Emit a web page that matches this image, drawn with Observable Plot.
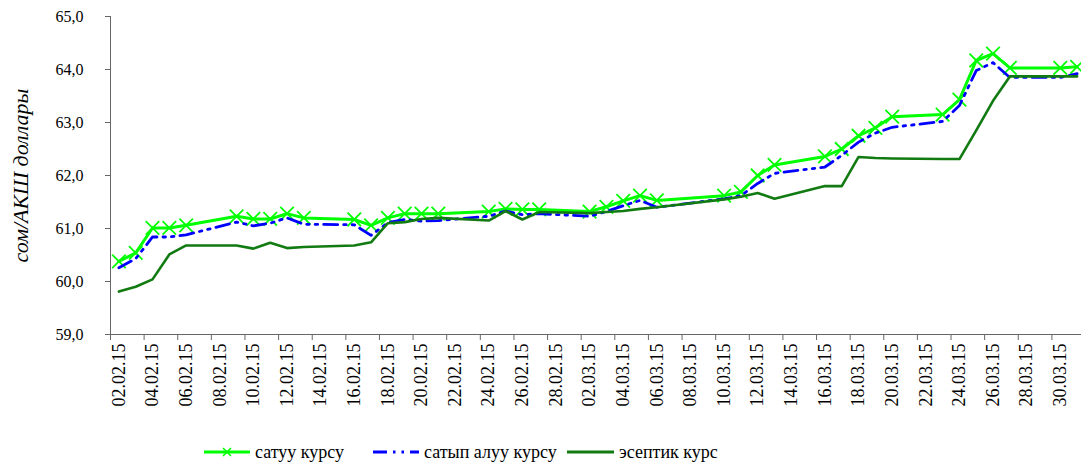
<!DOCTYPE html>
<html>
<head>
<meta charset="utf-8">
<script src="https://cdn.jsdelivr.net/npm/d3@7"></script>
<script src="https://cdn.jsdelivr.net/npm/@observablehq/plot@0.6"></script>
<style>
  html, body { margin: 0; padding: 0; background: #fff; overflow: hidden; }
  #chart { width: 1081px; }
  #chart svg, #chart svg text { font-family: "Liberation Serif", "Times New Roman", serif !important; }
  .legend { position: relative; width: 1081px; height: 39px; font-family: "Liberation Serif", "Times New Roman", serif; font-size: 18px; color: #000; }
  .legend .item { position: absolute; top: 16px; display: flex; align-items: center; height: 22px; }
  .legend svg { display: block; margin-right: 5px; }
</style>
</head>
<body>
<div id="chart"></div>
<div class="legend" id="legend"></div>
<script>
// ---- data ----
const dates = [
  "02.02.15","03.02.15","04.02.15","05.02.15","06.02.15",
  "09.02.15","10.02.15","11.02.15","12.02.15","13.02.15",
  "16.02.15","17.02.15","18.02.15","19.02.15","20.02.15","21.02.15",
  "24.02.15","25.02.15","26.02.15","27.02.15",
  "02.03.15","03.03.15","04.03.15","05.03.15","06.03.15",
  "10.03.15","11.03.15","12.03.15","13.03.15",
  "16.03.15","17.03.15","18.03.15","19.03.15","20.03.15",
  "23.03.15","24.03.15","25.03.15","26.03.15","27.03.15",
  "30.03.15","31.03.15"
];
const sellRate = [
  60.38, 60.54, 61.01, 61.01, 61.06,
  61.23, 61.18, 61.18, 61.28, 61.20,
  61.17, 61.06, 61.20, 61.28, 61.28, 61.28,
  61.32, 61.37, 61.36, 61.36,
  61.32, 61.41, 61.52, 61.62, 61.53,
  61.62, 61.69, 62.00, 62.20,
  62.36, 62.50, 62.75, 62.90, 63.11,
  63.15, 63.43, 64.17, 64.30, 64.03,
  64.03, 64.05
];
const buyRate = [
  60.26, 60.43, 60.84, 60.84, 60.88,
  61.12, 61.05, 61.10, 61.20, 61.08,
  61.07, 60.87, 61.11, 61.17, 61.14, 61.15,
  61.23, 61.33, 61.26, 61.28,
  61.23, 61.32, 61.43, 61.53, 61.40,
  61.56, 61.62, 61.85, 62.04,
  62.16, 62.38, 62.63, 62.80, 62.91,
  63.02, 63.32, 63.98, 64.13, 63.85,
  63.85, 63.92
];
const officialRate = [
  59.81, 59.90, 60.04, 60.51, 60.68,
  60.68, 60.62, 60.73, 60.63, 60.65,
  60.68, 60.74, 61.10, 61.12, 61.18, 61.20,
  61.15, 61.33, 61.17, 61.31,
  61.29, 61.31, 61.33, 61.37, 61.40,
  61.55, 61.60, 61.67, 61.56,
  61.80, 61.80, 62.35, 62.33, 62.32,
  62.31, 62.31, 62.85, 63.41, 63.87,
  63.87, 63.87
];
const xTickLabels = [
  "02.02.15","04.02.15","06.02.15","08.02.15","10.02.15","12.02.15","14.02.15",
  "16.02.15","18.02.15","20.02.15","22.02.15","24.02.15","26.02.15","28.02.15",
  "02.03.15","04.03.15","06.03.15","08.03.15","10.03.15","12.03.15","14.03.15",
  "16.03.15","18.03.15","20.03.15","22.03.15","24.03.15","26.03.15","28.03.15","30.03.15"
];
const yTicks = [59, 60, 61, 62, 63, 64, 65];
const seriesNames = ["сатуу курсу", "сатып алуу курсу", "эсептик курс"];
const yTitle = "сом/АКШ доллары";
const axisStart = "02.02.15";
const axisEnd = "01.04.15";

// ---- helpers ----
const parse = s => { const [d, m, y] = s.split("."); return new Date(Date.UTC(2000 + +y, +m - 1, +d)); };
const HALF_DAY = 12 * 3600 * 1000;
const mid = s => new Date(+parse(s) + HALF_DAY);
const fmtY = v => d3.format(".1f")(v).replace(".", ",");
const fmtX = d => d3.utcFormat("%d.%m.%y")(d);

const sellData = dates.map((d, i) => ({date: mid(d), v: sellRate[i]}));
const buyData = dates.map((d, i) => ({date: mid(d), v: buyRate[i]}));
const offData = dates.map((d, i) => ({date: mid(d), v: officialRate[i]}));
const tickDates = xTickLabels.map(parse);

const COL_SELL = "#00ff00", COL_BUY = "#0000ff", COL_OFF = "#117a11";
const BUY_DASH = "14,6,2.5,6,2.5,6";
const FONT = "'Liberation Serif', 'Times New Roman', serif";

const chart = Plot.plot({
  width: 1081,
  height: 425,
  marginLeft: 110,
  marginRight: -4,
  marginTop: 16,
  marginBottom: 91,
  style: {fontFamily: FONT, background: "white", color: "#000", overflow: "visible"},
  x: {type: "utc", domain: [parse(axisStart), parse(axisEnd)]},
  y: {domain: [59, 65]},
  marks: [
    Plot.axisY({ticks: yTicks, tickSize: 5, tickPadding: 22, tickFormat: fmtY, fontSize: 16, stroke: "#666", fill: "#000", label: null}),
    Plot.axisX({ticks: tickDates, tickSize: 6, tickFormat: () => "", stroke: "#666", label: null}),
    Plot.axisX({ticks: tickDates, tickSize: 0, tickPadding: 9, tickRotate: -90, dx: 8.4, tickFormat: fmtX, fontSize: 18, fill: "#000", label: null}),
    Plot.ruleY([59], {stroke: "#666"}),
    Plot.ruleX([parse(axisStart)], {stroke: "#666"}),
    Plot.text([yTitle], {frameAnchor: "left", textAnchor: "middle", rotate: -90, dx: -90, fontSize: 22, fontStyle: "italic", fill: "#000"}),
    Plot.line(sellData, {x: "date", y: "v", stroke: COL_SELL, strokeWidth: 3}),
    Plot.dot(sellData, {x: "date", y: "v", symbol: "times", r: 6.2, stroke: COL_SELL, strokeWidth: 1.8}),
    Plot.line(buyData, {x: "date", y: "v", stroke: COL_BUY, strokeWidth: 2.8, strokeDasharray: BUY_DASH}),
    Plot.line(offData, {x: "date", y: "v", stroke: COL_OFF, strokeWidth: 2.6})
  ]
});
document.getElementById("chart").appendChild(chart);

// ---- legend ----
const legend = document.getElementById("legend");
const items = [
  {name: seriesNames[0], left: 204, w: 46, draw: w => `<line x1="0" y1="11" x2="${w}" y2="11" stroke="${COL_SELL}" stroke-width="3"/><path d="M${w/2-4},7 L${w/2+4},15 M${w/2+4},7 L${w/2-4},15" stroke="${COL_SELL}" stroke-width="1.6"/>`},
  {name: seriesNames[1], left: 373, w: 46, draw: w => `<line x1="0" y1="11" x2="${w}" y2="11" stroke="${COL_BUY}" stroke-width="3" stroke-dasharray="${BUY_DASH}"/>`},
  {name: seriesNames[2], left: 567, w: 47, draw: w => `<line x1="0" y1="11" x2="${w}" y2="11" stroke="${COL_OFF}" stroke-width="3"/>`}
];
for (const it of items) {
  const div = document.createElement("div");
  div.className = "item";
  div.style.left = it.left + "px";
  div.innerHTML = `<svg width="${it.w}" height="22">${it.draw(it.w)}</svg><span>${it.name}</span>`;
  legend.appendChild(div);
}
</script>
</body>
</html>
